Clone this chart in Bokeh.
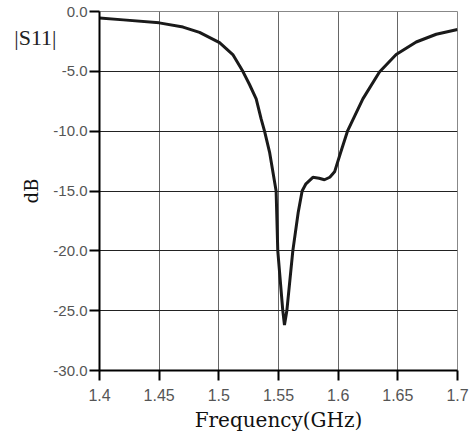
from bokeh.plotting import figure
from bokeh.models import FixedTicker, Range1d, PrintfTickFormatter, LinearAxis
from bokeh.embed import file_html
from bokeh.resources import INLINE

freq = [1.400, 1.420, 1.450, 1.470, 1.4838, 1.5006, 1.5117, 1.5201, 1.5257, 1.5313,
        1.5355, 1.5383, 1.5425, 1.548, 1.5494, 1.5536, 1.555, 1.557, 1.562, 1.5665,
        1.5698, 1.5730, 1.5788, 1.5840, 1.5885, 1.5930, 1.597, 1.6020, 1.6078,
        1.6207, 1.6346, 1.6486, 1.6654, 1.6822, 1.700]
s11 = [-0.55, -0.70, -0.95, -1.30, -1.75, -2.60, -3.60, -5.00, -6.10, -7.30,
       -9.00, -10.00, -11.75, -15.00, -20.00, -25.00, -26.20, -25.00, -20.00, -16.80,
       -15.00, -14.40, -13.86, -13.93, -14.06, -13.85, -13.40, -11.80, -10.00,
       -7.30, -5.05, -3.60, -2.55, -1.90, -1.50]

x_ticks = [1.40, 1.45, 1.50, 1.55, 1.60, 1.65, 1.70]
x_tick_labels = ["1.4", "1.45", "1.5", "1.55", "1.6", "1.65", "1.7"]
y_ticks = [0, -5, -10, -15, -20, -25, -30]
s11_label = "|S11|"
s11_label_pos = [-2.17]

p = figure(width=470, height=434, output_backend="svg", toolbar_location=None,
           x_range=Range1d(1.4, 1.7), y_range=Range1d(-30, 0),
           min_border_left=99, min_border_right=13, min_border_top=11, min_border_bottom=63)

p.line(freq, s11, line_color="#1a1a1a", line_width=3)

p.xaxis.ticker = FixedTicker(ticks=x_ticks)
p.xaxis.major_label_overrides = {t: l for t, l in zip(x_ticks, x_tick_labels)}
p.yaxis.ticker = FixedTicker(ticks=y_ticks)
p.yaxis.formatter = PrintfTickFormatter(format="%.1f")

for ax in (p.xaxis, p.yaxis):
    ax.axis_line_color = "black"
    ax.axis_line_width = 2
    ax.major_tick_line_color = "black"
    ax.major_tick_line_width = 2
    ax.major_tick_out = 10
    ax.major_tick_in = 0
    ax.minor_tick_line_color = None
    ax.major_label_text_font = "Liberation Sans"
    ax.major_label_text_color = "#555555"
    ax.axis_label_text_font = "DejaVu Serif"
    ax.axis_label_text_font_style = "normal"
    ax.axis_label_text_color = "#111111"

p.xaxis.major_label_text_font_size = "16px"
p.yaxis.major_label_text_font_size = "15px"
p.xaxis.major_label_standoff = 8
p.yaxis.major_label_standoff = 2
p.xaxis.axis_label = "Frequency(GHz)"
p.xaxis.axis_label_text_font_size = "20px"
p.xaxis.axis_label_standoff = 4
p.yaxis.axis_label = "dB"
p.yaxis.axis_label_text_font_size = "18px"
p.yaxis.axis_label_standoff = 8

# outer left axis that only carries the |S11| caption
cap = LinearAxis(ticker=FixedTicker(ticks=s11_label_pos),
                 major_label_overrides={s11_label_pos[0]: s11_label})
cap.axis_line_color = None
cap.major_tick_line_color = None
cap.minor_tick_line_color = None
cap.major_tick_out = 0
cap.major_tick_in = 0
cap.major_label_standoff = -38
cap.major_label_text_font = "Liberation Serif"
cap.major_label_text_font_size = "22px"
cap.major_label_text_color = "#222222"
p.add_layout(cap, "left")

p.xgrid.ticker = FixedTicker(ticks=x_ticks)
p.ygrid.ticker = FixedTicker(ticks=y_ticks)
p.xgrid.grid_line_color = "#666666"
p.ygrid.grid_line_color = "#222222"
p.xgrid.grid_line_width = 1
p.ygrid.grid_line_width = 1

p.outline_line_color = "#888888"
p.outline_line_width = 1
p.background_fill_color = "white"
p.border_fill_color = "white"

open("out.html", "w").write(file_html(p, INLINE))
